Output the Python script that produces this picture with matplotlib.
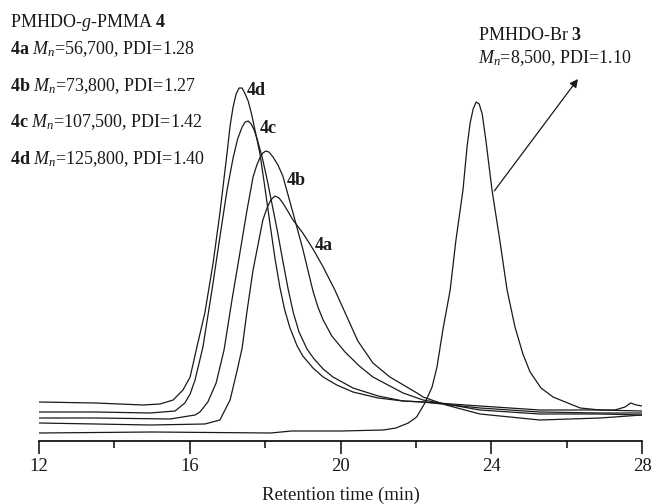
import matplotlib
matplotlib.use('Agg')
import matplotlib.pyplot as plt

plt.rcParams['font.family'] = 'Liberation Serif'
plt.rcParams['mathtext.fontset'] = 'custom'
plt.rcParams['mathtext.rm'] = 'Liberation Serif'
plt.rcParams['mathtext.it'] = 'Liberation Serif:italic'
plt.rcParams['mathtext.bf'] = 'Liberation Serif:bold'

# retention time (min) and detector signal (arb. units)
t_4d = [12.0, 13.5, 14.76, 15.21, 15.56, 15.82, 16.01, 16.19, 16.40, 16.62, 16.80, 16.99, 17.07, 17.15, 17.23,
        17.31, 17.39, 17.47, 17.55, 17.64, 17.73, 17.86, 18.00, 18.13, 18.26, 18.39, 18.52, 18.66, 18.85, 19.00,
        19.27, 19.54, 19.90, 20.33, 21.00, 21.66, 22.19, 23.70, 25.29, 26.89, 28.0]
s_4d = [39, 38, 36, 37, 41, 51, 64, 94, 128, 178, 228, 288, 315, 334, 347,
        353, 353, 347, 340, 327, 311, 288, 252, 217, 183, 154, 131, 113, 95, 85,
        73, 64, 56, 49, 43, 40, 39, 35, 31, 31, 30]

t_4c = [12.0, 13.5, 14.95, 15.61, 15.87, 16.01, 16.14, 16.35, 16.59, 16.80, 16.99, 17.15, 17.27, 17.39, 17.47,
        17.55, 17.63, 17.71, 17.78, 17.92, 18.05, 18.32, 18.47, 18.61, 18.75, 18.90, 19.11, 19.30, 19.54, 19.80,
        20.33, 21.00, 21.66, 22.19, 23.70, 25.29, 26.89, 28.0]
s_4c = [29, 29, 28, 30, 38, 47, 61, 94, 151, 204, 251, 283, 302, 314, 319,
        320, 317, 311, 303, 284, 262, 211, 180, 152, 128, 109, 92, 82, 72, 64,
        53, 45, 40, 39, 33, 29, 28, 28]

t_4b = [12.0, 13.5, 15.48, 16.14, 16.27, 16.48, 16.70, 16.91, 17.12, 17.33, 17.52, 17.68, 17.78, 17.86, 17.94,
        18.02, 18.10, 18.21, 18.34, 18.47, 18.74, 19.00, 19.14, 19.27, 19.40, 19.54, 19.77, 20.12, 20.50, 20.86,
        21.66, 22.19, 23.70, 25.29, 26.89, 28.0]
s_4b = [23, 23, 22, 26, 29, 39, 58, 91, 141, 188, 231, 264, 276, 283, 288,
        290, 289, 284, 276, 265, 228, 192, 170, 150, 134, 121, 105, 89, 75, 64,
        48, 41, 31, 27, 27, 26]

t_4a = [12.0, 13.5, 14.95, 16.40, 16.80, 17.07, 17.26, 17.39, 17.52, 17.68, 17.94, 18.05, 18.15, 18.26, 18.37,
        18.47, 18.60, 18.74, 19.00, 19.27, 19.54, 19.85, 20.46, 20.86, 21.31, 22.03, 22.19, 22.80, 23.70, 25.29,
        26.89, 28.0]
s_4a = [18, 17, 16, 17, 21, 41, 71, 93, 130, 171, 221, 233, 241, 245, 243,
        238, 230, 221, 208, 192, 174, 151, 100, 78, 64, 48, 44, 36, 27, 21,
        23, 26]

t_3 = [12.0, 15.0, 18.15, 18.7, 20.03, 21.14, 21.47, 21.8, 22.02, 22.24, 22.43, 22.56, 22.72, 22.91, 23.06, 23.25,
       23.36, 23.44, 23.52, 23.60, 23.68, 23.76, 23.86, 24.02, 24.23, 24.42, 24.63, 24.84, 25.03, 25.32, 25.64,
       25.90, 26.36, 26.89, 27.28, 27.55, 27.70, 27.85, 28.0]
s_3 = [8, 9, 8, 10, 10, 11, 13, 18, 24, 38, 54, 74, 112, 151, 200, 251,
       295, 318, 332, 339, 337, 327, 300, 251, 200, 151, 114, 87, 69, 53, 44,
       40, 33, 31, 31, 34, 38, 36, 35]

series = [(t_4d, s_4d), (t_4c, s_4c), (t_4b, s_4b), (t_4a, s_4a), (t_3, s_3)]

left_lines = [r'PMHDO-$g$-PMMA $\mathbf{4}$',
              r'$\mathbf{4a}$ $M_n$=56,700, PDI=1.28',
              r'$\mathbf{4b}$ $M_n$=73,800, PDI=1.27',
              r'$\mathbf{4c}$ $M_n$=107,500, PDI=1.42',
              r'$\mathbf{4d}$ $M_n$=125,800, PDI=1.40']
right_lines = [r'PMHDO-Br $\mathbf{3}$', r'$M_n$=8,500, PDI=1.10']

W, H = 655, 504
ink = '#1a1a1a'

fig = plt.figure(figsize=(W / 100, H / 100), dpi=100)
ax = fig.add_axes([39 / W, 63 / H, 603 / W, 441 / H])

for t, s in series:
    ax.plot(t, s, color=ink, lw=0.9, solid_joinstyle='round')

ax.set_xlim(12, 28)
ax.set_ylim(0, 441)
for side in ['left', 'right', 'top']:
    ax.spines[side].set_visible(False)
ax.spines['bottom'].set_linewidth(1.2)
ax.set_yticks([])
ax.set_xticks([12, 16, 20, 24, 28])
ax.set_xticks([14, 18, 22, 26], minor=True)
ax.tick_params(axis='x', which='major', length=9, width=1.2, labelsize=13.5, pad=3, colors=ink)
ax.tick_params(axis='x', which='minor', length=5, width=1.2, colors=ink)
ax.set_xlabel('Retention time (min)', fontsize=13.5, labelpad=8.5, color=ink)

# labels next to the peaks
for name, x, y in [('4d', 247, 95), ('4c', 260, 133), ('4b', 287, 185), ('4a', 315, 250)]:
    fig.text(x / W, 1 - y / H, name, fontsize=13, fontweight='bold', va='baseline', color=ink)

for s, y in zip(left_lines, [27, 54, 91, 127, 164]):
    fig.text(10 / W, 1 - y / H, s, fontsize=13, va='baseline', color=ink)
for s, y in zip(right_lines, [40, 63]):
    fig.text(478 / W, 1 - y / H, s, fontsize=13, va='baseline', color=ink)

ax.annotate('', xy=(26.30, 362), xytext=(24.08, 250),
            arrowprops=dict(arrowstyle='-|>', color=ink, lw=0.9, mutation_scale=12, shrinkA=0, shrinkB=0))

fig.savefig('out.png', dpi=100)
